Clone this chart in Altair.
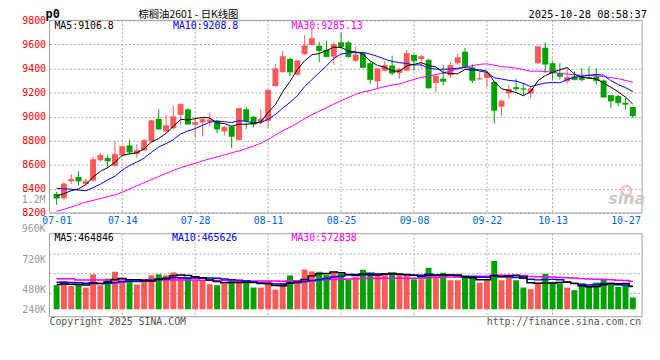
import altair as alt
import pandas as pd

# ---------------- data ----------------
opens = [8359, 8323, 8463, 8498, 8441, 8468, 8638, 8657, 8591, 8679,
         8761, 8692, 8720, 8796, 8982, 8878, 8903, 9015, 9061, 8933,
         8952, 8958, 8966, 8878, 8917, 8807, 9061, 8999, 8958, 8966,
         9253, 9371, 9480, 9349, 9518, 9595, 9589, 9554, 9499, 9617,
         9617, 9464, 9526, 9444, 9294, 9382, 9425, 9362, 9382, 9513,
         9480, 9472, 9280, 9316, 9343, 9444, 9540, 9409, 9310, 9321,
         9289, 9083, 9193, 9245, 9234, 9193, 9444, 9573, 9444, 9362,
         9294, 9335, 9335, 9327, 9335, 9300, 9179, 9171, 9116, 9081]
highs = [8375, 8457, 8523, 8547, 8487, 8670, 8698, 8679, 8802, 8761,
         8810, 8769, 8815, 8974, 9062, 9015, 9089, 9108, 9070, 8993,
         8993, 9034, 8974, 8925, 8925, 9070, 9081, 9007, 9062, 9226,
         9436, 9546, 9491, 9470, 9677, 9732, 9622, 9628, 9622, 9699,
         9628, 9581, 9535, 9453, 9403, 9464, 9507, 9403, 9554, 9518,
         9513, 9480, 9349, 9431, 9453, 9526, 9573, 9436, 9376, 9376,
         9294, 9144, 9267, 9316, 9280, 9253, 9589, 9617, 9453, 9444,
         9403, 9376, 9403, 9417, 9403, 9308, 9179, 9179, 9157, 9081]
lows = [8268, 8304, 8441, 8432, 8427, 8462, 8624, 8577, 8583, 8670,
        8687, 8659, 8714, 8788, 8889, 8870, 8895, 8933, 8933, 8824,
        8837, 8917, 8862, 8843, 8739, 8802, 8897, 8911, 8938, 8911,
        9248, 9362, 9335, 9340, 9513, 9590, 9453, 9491, 9431, 9567,
        9485, 9453, 9403, 9272, 9226, 9376, 9343, 9316, 9376, 9382,
        9403, 9234, 9204, 9261, 9321, 9431, 9409, 9280, 9308, 9245,
        8944, 9007, 9149, 9212, 9179, 9152, 9436, 9362, 9308, 9308,
        9275, 9300, 9294, 9316, 9267, 9157, 9070, 9089, 9061, 8988]
closes = [8323, 8441, 8479, 8465, 8463, 8643, 8679, 8632, 8687, 8752,
          8706, 8720, 8802, 8966, 8897, 8925, 8999, 9103, 8938, 8952,
          8979, 8974, 8897, 8911, 8837, 9070, 8966, 8938, 8979, 9220,
          9398, 9499, 9371, 9464, 9589, 9650, 9548, 9499, 9600, 9581,
          9499, 9513, 9409, 9308, 9398, 9425, 9362, 9395, 9526, 9464,
          9499, 9239, 9335, 9294, 9425, 9491, 9417, 9302, 9316, 9362,
          9053, 9130, 9226, 9231, 9228, 9231, 9581, 9436, 9362, 9335,
          9327, 9308, 9308, 9321, 9300, 9163, 9130, 9116, 9103, 9007]
volumes = [487000, 567000, 473000, 500000, 440000, 707000, 487000, 620000, 760000, 553000,
           567000, 500000, 553000, 687000, 707000, 687000, 747000, 633000, 647000, 587000,
           587000, 507000, 487000, 520000, 600000, 587000, 553000, 440000, 440000, 567000,
           400000, 533000, 687000, 587000, 807000, 767000, 760000, 700000, 747000, 720000,
           607000, 653000, 800000, 720000, 687000, 720000, 720000, 700000, 687000, 607000,
           607000, 840000, 707000, 740000, 587000, 587000, 653000, 633000, 540000, 587000,
           980000, 587000, 673000, 587000, 440000, 407000, 520000, 720000, 553000, 520000,
           440000, 387000, 487000, 453000, 540000, 620000, 520000, 453000, 487000, 240000]

# moving-average values at the start of the window (need earlier days)
ma5_head = [8340, 8360, 8385, 8400]
ma10_head = [8405, 8400, 8398, 8390, 8385, 8410, 8440, 8475, 8505]
ma30_head = [8215, 8230, 8250, 8270, 8290, 8305, 8320, 8335, 8350, 8372,
             8398, 8425, 8452, 8478, 8503, 8528, 8553, 8576, 8596, 8612,
             8632, 8650, 8665, 8682, 8700, 8715, 8735, 8755, 8780]
vma5_head = [500000, 510000, 505000, 500000]
vma10_head = [545000, 545000, 540000, 535000, 525000, 520000, 520000, 525000, 535000]
vma30_head = [620000, 620000, 618000, 595000, 595000, 595000, 595000, 595000, 595000, 595000,
              595000, 595000, 595000, 595000, 595000, 595000, 595000, 595000, 595000, 593000,
              590000, 586000, 583000, 581000, 579000, 578000, 576000, 575000, 574000]

tick_idx = [0, 9, 19, 29, 39, 49, 59, 68, 78]
tick_labels = ["07-01", "07-14", "07-28", "08-11", "08-25", "09-08", "09-22", "10-13", "10-27"]
grid_idx = [9, 19, 29, 39, 49, 59, 68]
price_ticks = [8200, 8400, 8600, 8800, 9000, 9200, 9400, 9600, 9800]
vol_tick_values = [0, 400000, 1000000]
vol_tick_labels = ["240K", "480K", "720K"]
vol_top_label = "960K"
vol_grid_values = [320000, 720000, 1120000]

ma_legend = ["MA5:9106.8", "MA10:9208.8", "MA30:9285.13"]
vol_legend = ["MA5:464846", "MA10:465626", "MA30:572838"]
title_text = "棕榈油2601 - 日K线图"
code_text = "p0"
time_text = "2025-10-28 08:58:37"

# ---------------- derived table ----------------
df = pd.DataFrame({"i": list(range(len(closes))), "open": opens, "high": highs,
                   "low": lows, "close": closes, "vol": volumes})


def ma(series, n, head):
    vals = series.rolling(n).mean().tolist()
    vals[:len(head)] = head
    return vals


df["ma5"] = ma(df["close"], 5, ma5_head)
df["ma10"] = ma(df["close"], 10, ma10_head)
df["ma30"] = ma(df["close"], 30, ma30_head)
df["vma5"] = ma(df["vol"], 5, vma5_head)
df["vma10"] = ma(df["vol"], 10, vma10_head)
df["vma30"] = ma(df["vol"], 30, vma30_head)

# ---------------- styling ----------------
RED = "#FF5A5A"
GREEN = "#00A000"
GRID = "#A8A8A8"
FRAME = "#A0A0A0"
MONO = "DejaVu Sans Mono"
W, H = 600, 300
P_TOP, P_BOT = 0, 195
V_TOP, V_BOT = 216, 300

updown = alt.condition("datum.close >= datum.open", alt.value(RED), alt.value(GREEN))

xscale = alt.Scale(domain=[-0.3, 79.6], nice=False, zero=False)
x_label_expr = "[" + ",".join(f"'{t}'" for t in tick_labels) + "][indexof([" + \
    ",".join(str(v) for v in tick_idx) + "], datum.value)]"
xaxis = alt.Axis(values=tick_idx, labelExpr=x_label_expr, orient="bottom", offset=-(H - P_BOT),
                 grid=False, domain=False, ticks=False, labelFont=MONO, labelFontSize=10,
                 labelColor="#0066CC", labelPadding=3, labelBaseline="top", title=None,
                 labelOverlap=False, labelFlush=False, labelBound=False)
X = alt.X("i:Q", scale=xscale, axis=xaxis)

pscale = alt.Scale(domain=[8200, 9800], range=[P_BOT, P_TOP], nice=False, zero=False)
paxis = alt.Axis(values=price_ticks, format="d", orient="left", grid=True, gridColor=GRID,
                 gridDash=[2, 2], domain=False, ticks=False, labelColor="#FF0000", labelFont=MONO,
                 labelFontSize=10, labelPadding=4, title=None, labelOverlap=False,
                 labelBound=False, labelFlush=False)

vscale = alt.Scale(domain=[-150000, 1530000], range=[V_BOT, V_TOP], nice=False, zero=False)
v_label_expr = "[" + ",".join(f"'{t}'" for t in vol_tick_labels) + "][indexof([" + \
    ",".join(str(v) for v in vol_tick_values) + "], datum.value)]"
vaxis = alt.Axis(values=vol_tick_values, labelExpr=v_label_expr, orient="left", grid=False,
                 domain=False, ticks=False, labelColor="#999999", labelFont=MONO, labelFontSize=10,
                 labelPadding=4, title=None, labelOverlap=False, labelBound=False, labelFlush=False)

base = alt.Chart(df)
one = pd.DataFrame({"a": [0]})
grid_df = pd.DataFrame({"i": grid_idx})
vgrid_df = pd.DataFrame({"g": vol_grid_values})

# ---------------- price panel ----------------
p_vgrid = alt.Chart(grid_df).mark_rule(color=GRID, strokeDash=[2, 2], strokeWidth=1).encode(
    x=X, y=alt.value(P_TOP), y2=alt.value(P_BOT))
wick = base.mark_rule(strokeWidth=1).encode(
    x=X, y=alt.Y("low:Q", scale=pscale, axis=paxis), y2="high:Q", color=updown)
body = base.mark_bar(size=6).encode(
    x=X, y=alt.Y("open:Q", scale=pscale, axis=paxis), y2="close:Q", color=updown)
doji = base.mark_tick(orient="horizontal", size=6, thickness=1).encode(
    x=X, y=alt.Y("close:Q", scale=pscale, axis=paxis), color=updown)
l5 = base.mark_line(color="black", strokeWidth=1).encode(
    x=X, y=alt.Y("ma5:Q", scale=pscale, axis=paxis))
l10 = base.mark_line(color="#0000FF", strokeWidth=1).encode(
    x=X, y=alt.Y("ma10:Q", scale=pscale, axis=paxis))
l30 = base.mark_line(color="#FF00FF", strokeWidth=1).encode(
    x=X, y=alt.Y("ma30:Q", scale=pscale, axis=paxis))
price = alt.layer(p_vgrid, wick, body, doji, l30, l10, l5)

# ---------------- volume panel ----------------
v_hgrid = alt.Chart(vgrid_df).mark_rule(color=GRID, strokeDash=[2, 2], strokeWidth=1).encode(
    y=alt.Y("g:Q", scale=vscale, axis=vaxis), x=alt.value(0), x2=alt.value(W))
v_vgrid = alt.Chart(grid_df).mark_rule(color=GRID, strokeDash=[2, 2], strokeWidth=1).encode(
    x=X, y=alt.value(V_TOP), y2=alt.value(V_BOT))
vbars = base.mark_bar(size=6).encode(
    x=X, y=alt.Y("vol:Q", scale=vscale, axis=vaxis), y2=alt.datum(0), color=updown)
v30 = base.mark_line(color="#FF00FF", strokeWidth=1.5, interpolate="step").encode(
    x=X, y=alt.Y("vma30:Q", scale=vscale, axis=vaxis))
v10 = base.mark_line(color="#0000FF", strokeWidth=1.5, interpolate="step").encode(
    x=X, y=alt.Y("vma10:Q", scale=vscale, axis=vaxis))
v5 = base.mark_line(color="black", strokeWidth=1.5, interpolate="step").encode(
    x=X, y=alt.Y("vma5:Q", scale=vscale, axis=vaxis))
volume = alt.layer(v_hgrid, v_vgrid, vbars, v30, v10, v5)

# ---------------- frames and texts ----------------
frame_p = alt.Chart(one).mark_rect(fillOpacity=0, stroke=FRAME, strokeWidth=1).encode(
    x=alt.value(0), x2=alt.value(W), y=alt.value(P_TOP), y2=alt.value(P_BOT))
frame_v = alt.Chart(one).mark_rect(fillOpacity=0, stroke=FRAME, strokeWidth=1).encode(
    x=alt.value(0), x2=alt.value(W), y=alt.value(V_TOP), y2=alt.value(V_BOT))


def label(text, x, y, color="black", size=10, font=MONO, align="left", baseline="middle",
          weight="normal", style="normal"):
    return alt.Chart(pd.DataFrame({"t": [text]})).mark_text(
        align=align, baseline=baseline, font=font, fontSize=size, color=color,
        fontWeight=weight, fontStyle=style).encode(
        x=alt.value(x), y=alt.value(y), text="t:N")


texts = [
    label(ma_legend[0], 5, 6.0, "black"),
    label(ma_legend[1], 125, 6.0, "#0000FF"),
    label(ma_legend[2], 245, 6.0, "#FF00FF"),
    label(vol_legend[0], 5, 220.5, "black"),
    label(vol_legend[1], 124, 220.5, "#0000FF"),
    label(vol_legend[2], 245, 220.5, "#FF00FF"),
    label(vol_top_label, -4, 211.5, "#999999", align="right"),
    label(code_text, -4, -2.2, "black", size=12, weight="bold", baseline="alphabetic"),
    label(title_text, 90, -4.9, "black", size=10.5, font="Noto Sans CJK SC", baseline="middle"),
    label(time_text, 605, -2.5, "black", size=10.5, align="right", baseline="alphabetic"),
    label("1.2M", -4, 182, "#999999", align="right"),
    label("Copyright 2025 SINA.COM", 0, 305, "#555555"),
    label("http://finance.sina.com.cn", 599, 305, "#555555", align="right"),
    label("sina", 603, 186, "#C8C8C8", size=16, font="DejaVu Sans", align="right",
          baseline="alphabetic", weight="bold", style="italic"),
]
logo = alt.Chart(one).mark_point(shape="circle", size=90, filled=False, color="#F2A9A9",
                                 strokeWidth=2.5).encode(x=alt.value(584), y=alt.value(172.5))

chart = alt.layer(frame_p, frame_v, price, volume, logo, *texts).resolve_scale(
    y="independent"
).properties(
    width=W, height=H,
    autosize=alt.AutoSizeParams(type="none"),
    padding={"left": 42, "top": 10.5, "right": 10, "bottom": 15},
).configure_view(stroke=None)

chart.save("out.html", embed_options={"renderer": "svg", "actions": False})
